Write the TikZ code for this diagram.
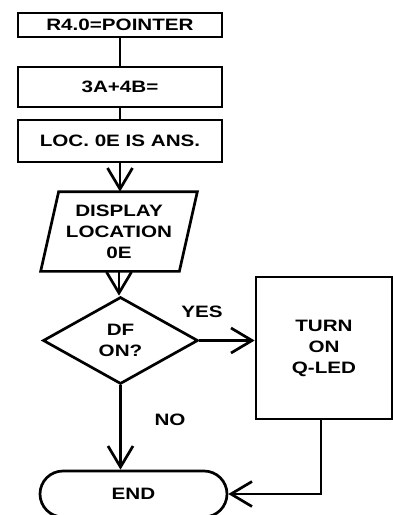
\documentclass[tikz,border=0pt]{standalone}
\usepackage{fontspec}
\setmainfont{Liberation Sans}[FakeStretch=1.25]
\usetikzlibrary{shapes.geometric,shapes.misc,arrows.meta}

\begin{document}
\begin{tikzpicture}[x=1pt, y=-1pt, line width=2.7pt,
    font=\fontsize{16.5}{21}\selectfont\bfseries,
    >={Straight Barb[length=21pt,width=25pt]},
    kasten/.style={draw, minimum width=204, inner sep=0pt},
    ablauf/.style={align=center, inner sep=0pt},
  ]
  \useasboundingbox (0,0) rectangle (393,515);

  % ---------------- Anweisungen -----------------------------------
  \node[kasten, minimum height=24] (zeiger) at (120,25) {R4.0=POINTER};
  \node[kasten, minimum height=40] (summe) at (120,87) {3A+4B=};
  \node[kasten, minimum height=42] (ergebnis) at (120,141) {LOC.\ 0E IS ANS.};

  % Ausgabe: Parallelogramm um einen leeren Knoten
  \node[ablauf, minimum width=136, minimum height=77] (anzeige) at (119,231.5)
    {DISPLAY\\LOCATION\\0E};
  \draw ([xshift=9pt]anzeige.north west) -- ([xshift=9pt]anzeige.north east)
    -- ([xshift=-9pt]anzeige.south east) -- ([xshift=-9pt]anzeige.south west) -- cycle;

  % Verzweigung, Q-LED und Ende
  \node[ablauf, draw, diamond, minimum width=155, minimum height=87] (frage)
    at (120.5,340.5) {DF\\ON?};
  \node[ablauf, draw, minimum width=136, minimum height=142] (qled) at (324,348)
    {TURN\\ON\\Q-LED};
  \node[ablauf, draw, rounded rectangle, minimum width=187, minimum height=46] (ende)
    at (133.5,494) {END};

  \node (ja) at (202,312) {YES};
  \node (nein) at (170,420) {NO};

  % ---------------- Verbindungen ----------------------------------
  \draw (zeiger.south) -- (zeiger.south |- summe.north);
  \draw (summe.south) -- (summe.south |- ergebnis.north);
  \draw[->] (ergebnis.south) -- (ergebnis.south |- anzeige.north);
  \draw[->] (anzeige.south) -- (anzeige.south |- frage.north);
  \draw[->] (frage.east) -- (frage.east -| qled.west);
  \draw[->] (frage.south) -- (frage.south |- ende.north);
  \draw[->] ([xshift=-3pt]qled.south) |- (ende.east);
\end{tikzpicture}
\end{document}
